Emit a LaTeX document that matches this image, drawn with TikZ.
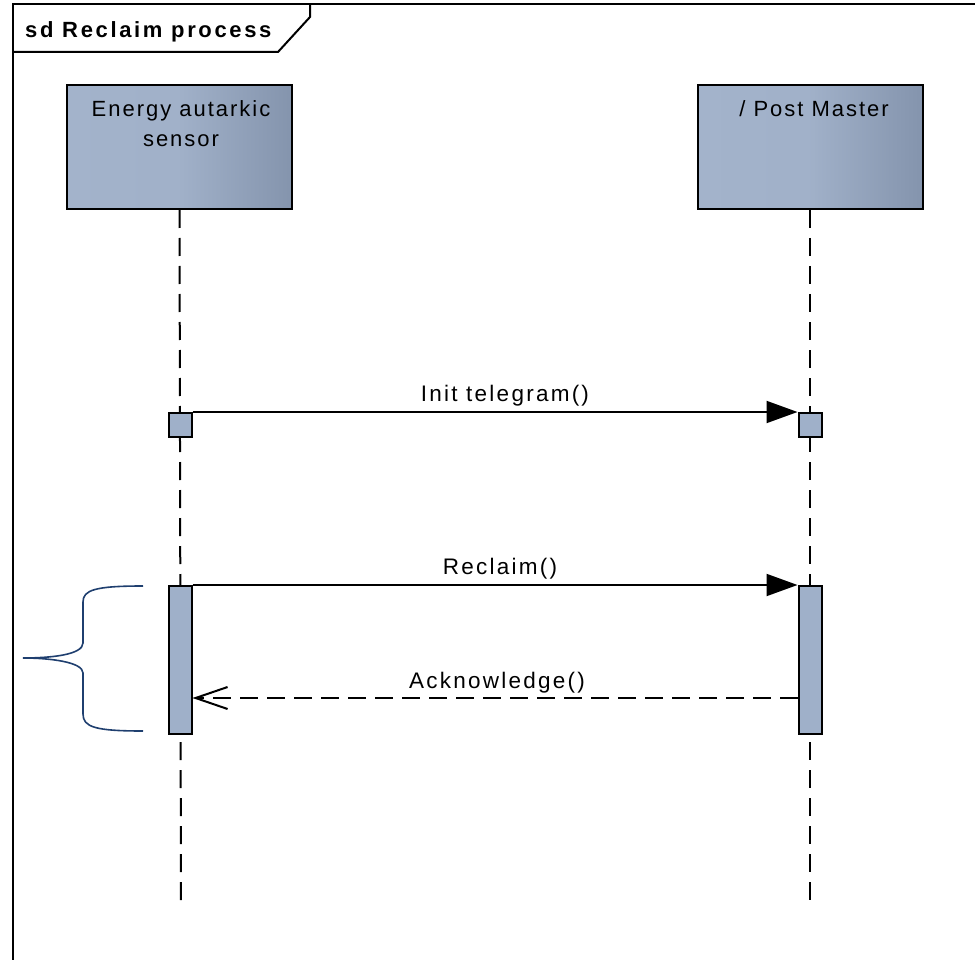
\documentclass[tikz,border=0pt]{standalone}
\usepackage{fontspec}
\setmainfont{Liberation Sans}
\newfontfamily\lblfont[LetterSpace=10]{Liberation Sans}
\newfontfamily\boxfont[LetterSpace=9]{Liberation Sans}
\newfontfamily\ttlfont[LetterSpace=12]{Liberation Sans}
\usetikzlibrary{arrows.meta,calc}
\definecolor{boxL}{HTML}{A3B3CB}
\definecolor{boxR}{HTML}{8494AD}
\definecolor{actfill}{HTML}{9FB0C9}
\definecolor{bracecol}{HTML}{1F3F6F}
\tikzset{
  lifebox/.style={draw=black, line width=2pt, rectangle, minimum width=225pt, minimum height=124pt, inner sep=0pt, left color=boxL, right color=boxR, middle color=boxL!92!boxR},
  boxtext/.style={font=\boxfont\fontsize{22}{30}\selectfont, align=center, anchor=north, inner sep=0pt},
  actbox/.style={draw=black, line width=2pt, fill=actfill, rectangle, minimum width=23pt, inner sep=0pt},
  lifeline/.style={line width=2pt, dash pattern=on 18pt off 10pt},
  syncmsg/.style={line width=2pt, -{Triangle[length=31pt,width=22pt]}},
  replymsg/.style={line width=2pt, dash pattern=on 18pt off 9pt, -{Straight Barb[length=32pt,width=22pt,line width=2pt]}},
  msglabel/.style={font=\lblfont\fontsize{22.5}{26}\selectfont, anchor=base, inner sep=0pt},
  framebox/.style={line width=2.4pt},
}
\begin{document}
\begin{tikzpicture}[x=1pt,y=-1pt]
\useasboundingbox (0,0) rectangle (975,960);
% frame
\draw[framebox] (13,975) -- (13,4) -- (990,4);
\draw[line width=2pt] (13,52) -- (278,52) -- (310,17) -- (310,4);
\node[font=\ttlfont\bfseries\fontsize{22}{26}\selectfont, anchor=base west, inner sep=0pt] (title) at (25,38) {sd Reclaim process};
% lifeline heads
\node[lifebox] (A) at (179.5,147) {};
\node[lifebox] (B) at (810,147) {};
\node[boxtext] (At) at (181,100) {Energy autarkic\\sensor};
\node[boxtext] (Bt) at (814,100) {/ Post Master};
% lifelines
\coordinate (Aend) at (181,906);
\coordinate (Bend) at (810,906);
\draw[lifeline] (A.south) -- (Aend);
\draw[lifeline] (B.south) -- (Bend);
% activations
\node[actbox, minimum height=24pt, anchor=north] (a1) at (180,412) {};
\node[actbox, minimum height=24pt, anchor=north] (b1) at (810,412) {};
\node[actbox, minimum height=148pt, anchor=north] (a2) at (180,585) {};
\node[actbox, minimum height=148pt, anchor=north] (b2) at (810,585) {};
% messages
\draw[syncmsg] (a1.north east) -- (b1.north west);
\node[msglabel] (l1) at (505,401) {Init telegram()};
\draw[syncmsg] (a2.north east) -- (b2.north west);
\node[msglabel] (l2) at (500,574) {Reclaim()};
\coordinate (ackS) at ($(b2.north west)+(0,113)$);
\coordinate (ackE) at ($(a2.north east)+(0,113)$);
\draw[replymsg] (ackS) -- (ackE);
\node[msglabel] (l3) at (497,688) {Acknowledge()};
% brace
\draw[bracecol, line width=1.6pt] (143,586) .. controls (95,586) and (83,590) .. (83,602)
  -- (83,643) .. controls (83,655) and (50,658) .. (23,658)
  .. controls (50,658) and (83,662) .. (83,673)
  -- (83,714) .. controls (83,727) and (95,731) .. (143,731);
\end{tikzpicture}
\end{document}
